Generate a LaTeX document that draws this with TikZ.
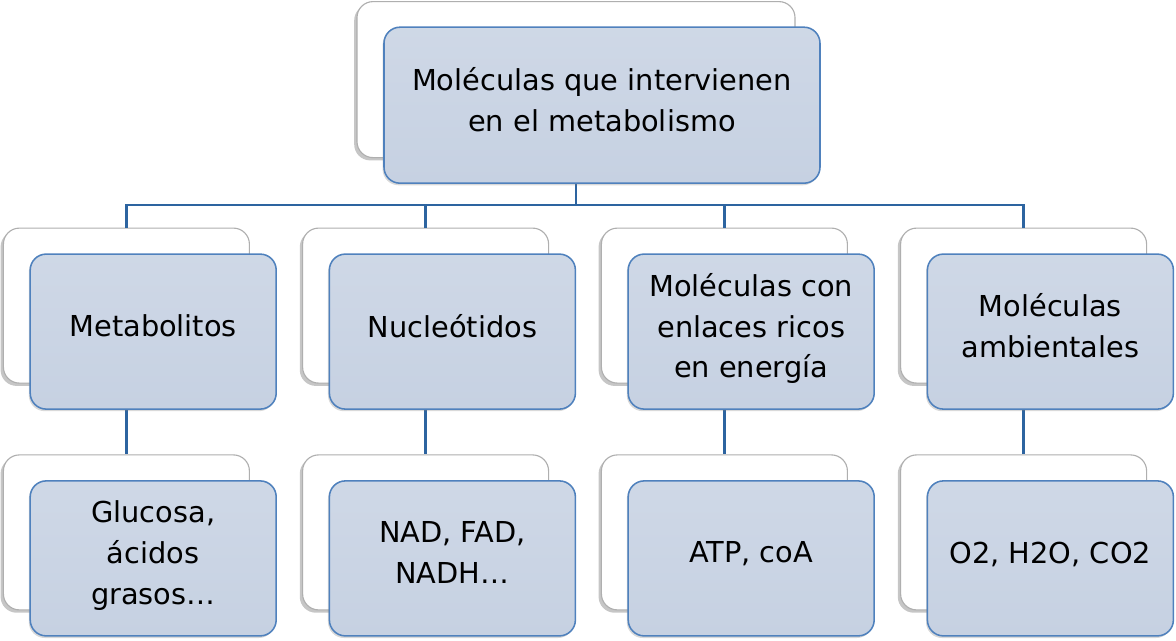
\documentclass[tikz,border=0pt]{standalone}
\usepackage{fontspec}
\setmainfont{DejaVu Sans}
\usepackage{xcolor}
\usepackage{tikz}
\usetikzlibrary{
  positioning,
  calc,
  shadows
}

\definecolor{boxfill}{RGB}{198,209,226}
\definecolor{boxline}{RGB}{79,129,189}
\definecolor{linkblue}{RGB}{45,100,160}
\definecolor{cardline}{RGB}{175,175,175}

\tikzset{
  card/.style={draw=cardline, fill=white, rounded corners=0.4cm, line width=0.8pt,
    minimum width=6.15cm, minimum height=3.875cm,
    drop shadow={shadow xshift=-2pt, shadow yshift=-2pt, opacity=0.45}},
  topcard/.style={card, minimum width=10.95cm, minimum height=3.9cm},
  molbox/.style={draw=boxline, line width=1.1pt, rounded corners=0.4cm,
    top color=boxfill!85!white, bottom color=boxfill,
    minimum width=6.15cm, minimum height=3.875cm, inner sep=0pt,
    align=center, font=\fontsize{20.5}{29}\selectfont,
    execute at end node={\rule[-0.3cm]{0pt}{0.3cm}},
    drop shadow={shadow xshift=-1pt, shadow yshift=-1.5pt, opacity=0.3}},
  topbox/.style={molbox, minimum width=10.9cm, minimum height=3.9cm},
  link/.style={draw=linkblue, line width=1.8pt}
}

\begin{document}
\begin{tikzpicture}[scale=1.0]
      \useasboundingbox (0,0) rectangle (29.4,-16.025);

      % Back cards
      \node[topcard] (molb) at (14.4,-1.99) {};
      \node[card] (metab) at (3.16,-7.64) {};
      \node[card] (nuclb) at (10.64,-7.64) {};
      \node[card] (enlb) at (18.11,-7.64) {};
      \node[card] (ambb) at (25.59,-7.64) {};
      \node[card] (glucb) at (3.16,-13.31) {};
      \node[card] (nadb) at (10.64,-13.31) {};
      \node[card] (atpb) at (18.11,-13.31) {};
      \node[card] (gasb) at (25.59,-13.31) {};

      % Connectors
      \coordinate (bar) at (14.4,-5.125);
      \draw[link] (molb.south) -- (bar);
      \draw[link] (metab.north) |- (bar) -| (ambb.north);
      \draw[link] (nuclb.north) -- (nuclb.north |- bar);
      \draw[link] (enlb.north) -- (enlb.north |- bar);
      \draw[link] (metab.south) -- (glucb.north);
      \draw[link] (nuclb.south) -- (nadb.north);
      \draw[link] (enlb.south) -- (atpb.north);
      \draw[link] (ambb.south) -- (gasb.north);

      % Top box
      \node[topbox] (mol) at ([xshift=0.65cm, yshift=-0.64cm]molb.center)
        {Moléculas que intervienen\\en el metabolismo};

      % Level 2
      \node[molbox] (meta) at ([xshift=0.67cm, yshift=-0.65cm]metab.center) {Metabolitos};
      \node[molbox] (nucl) at ([xshift=0.67cm, yshift=-0.65cm]nuclb.center) {Nucleótidos};
      \node[molbox] (enl) at ([xshift=0.67cm, yshift=-0.65cm]enlb.center)
        {Moléculas con\\enlaces ricos\\en energía};
      \node[molbox] (amb) at ([xshift=0.67cm, yshift=-0.65cm]ambb.center)
        {Moléculas\\ambientales};

      % Level 3
      \node[molbox] (gluc) at ([xshift=0.67cm, yshift=-0.65cm]glucb.center)
        {Glucosa,\\ácidos\\grasos…};
      \node[molbox] (nad) at ([xshift=0.67cm, yshift=-0.65cm]nadb.center)
        {NAD, FAD,\\NADH…};
      \node[molbox] (atp) at ([xshift=0.67cm, yshift=-0.65cm]atpb.center) {ATP, coA};
      \node[molbox] (gas) at ([xshift=0.67cm, yshift=-0.65cm]gasb.center) {O2, H2O, CO2};
    \end{tikzpicture}
\end{document}
